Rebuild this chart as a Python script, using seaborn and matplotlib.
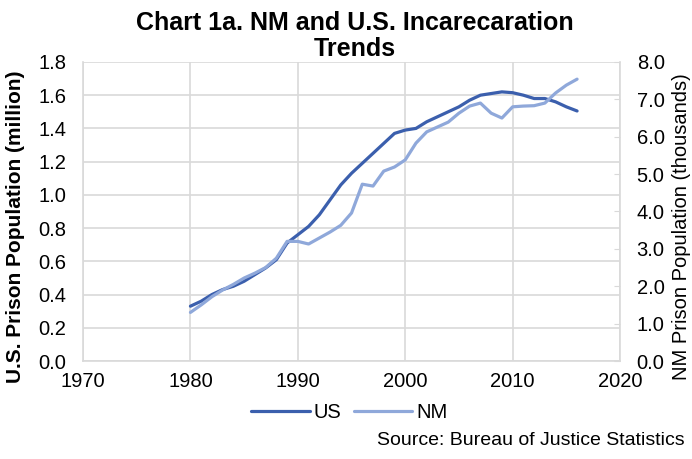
import seaborn as sns
import matplotlib.pyplot as plt
import pandas as pd

sns.set_style("white")
plt.rcParams['font.family'] = ['Liberation Sans', 'DejaVu Sans']
plt.rcParams['text.color'] = 'black'
plt.rcParams['axes.labelcolor'] = 'black'
plt.rcParams['xtick.labelcolor'] = 'black'
plt.rcParams['ytick.labelcolor'] = 'black'

years = list(range(1980, 2017))
us_million = [0.33, 0.36, 0.40, 0.43, 0.45, 0.48, 0.52, 0.56, 0.61, 0.71, 0.76,
              0.81, 0.88, 0.97, 1.06, 1.13, 1.19, 1.25, 1.31, 1.37, 1.39,
              1.40, 1.44, 1.47, 1.50, 1.53, 1.57, 1.60, 1.61, 1.62, 1.615,
              1.60, 1.58, 1.58, 1.56, 1.53, 1.505]
nm_thousands = [1.30, 1.50, 1.72, 1.90, 2.05, 2.22, 2.35, 2.50, 2.75, 3.20, 3.20,
                3.13, 3.29, 3.45, 3.63, 3.96, 4.73, 4.68, 5.08, 5.19, 5.38,
                5.83, 6.13, 6.26, 6.39, 6.63, 6.82, 6.90, 6.63, 6.50, 6.80,
                6.82, 6.83, 6.90, 7.17, 7.38, 7.54]

df = pd.DataFrame({"Year": years, "US": us_million, "NM": nm_thousands})

us_color = "#3B5FAD"
nm_color = "#8FA8DA"
grid_color = "#D9D9D9"

fig = plt.figure(figsize=(6.92, 4.59), dpi=100)
ax = fig.add_axes([0.12, 0.2135, 0.776, 0.6515])
ax2 = ax.twinx()

sns.lineplot(data=df, x="Year", y="US", ax=ax, color=us_color, linewidth=2.3, label="US", legend=False)
sns.lineplot(data=df, x="Year", y="NM", ax=ax2, color=nm_color, linewidth=2.3, label="NM", legend=False)

ax.set_xlim(1970, 2020)
ax.set_ylim(0, 1.8)
ax2.set_ylim(0, 8)
ax.set_xticks(range(1970, 2021, 10))
ax.set_yticks([i * 0.2 for i in range(10)])
ax.set_yticklabels([f"{i * 0.2:.1f}" for i in range(10)])
ax2.set_yticks(range(9))
ax2.set_yticklabels([f"{i:.1f}" for i in range(9)])

ax.grid(True, color=grid_color, linewidth=1.2)
ax.set_axisbelow(True)
for a in (ax, ax2):
    for s in a.spines.values():
        s.set_visible(False)
for s in ("bottom", "left"):
    ax.spines[s].set_visible(True)
    ax.spines[s].set_color(grid_color)
    ax.spines[s].set_linewidth(1.2)
ax2.spines["right"].set_visible(True)
ax2.spines["right"].set_color(grid_color)
ax2.spines["right"].set_linewidth(1.2)

ax.tick_params(axis="x", labelsize=14.5, length=0, pad=8)
ax.tick_params(axis="y", labelsize=14.5, length=0, pad=12)
ax2.tick_params(axis="y", labelsize=14.5, length=4, color=grid_color, direction="in", pad=12)

ax.set_xlabel("")
ax.set_ylabel("U.S. Prison Population (million)", fontsize=15, fontweight="bold")
ax.yaxis.set_label_coords(-0.108, 0.45)
ax2.set_ylabel("NM Prison Population (thousands)", fontsize=14.5, rotation=90)
ax2.yaxis.set_label_coords(1.097, 0.45)

fig.suptitle("Chart 1a. NM and U.S. Incarecaration\nTrends", fontsize=18, fontweight="bold",
             y=0.975, x=0.513, va="top", linespacing=1.1)

h1, l1 = ax.get_legend_handles_labels()
h2, l2 = ax2.get_legend_handles_labels()
fig.legend(h1 + h2, l1 + l2, loc="center", bbox_to_anchor=(0.505, 0.102), ncol=2, frameon=False,
           fontsize=14.5, handlelength=2.9, columnspacing=0.6, handletextpad=0.2)

fig.text(0.99, 0.04, "Source: Bureau of Justice Statistics", ha="right", va="center", fontsize=14)

fig.savefig("out.png", dpi=100)
